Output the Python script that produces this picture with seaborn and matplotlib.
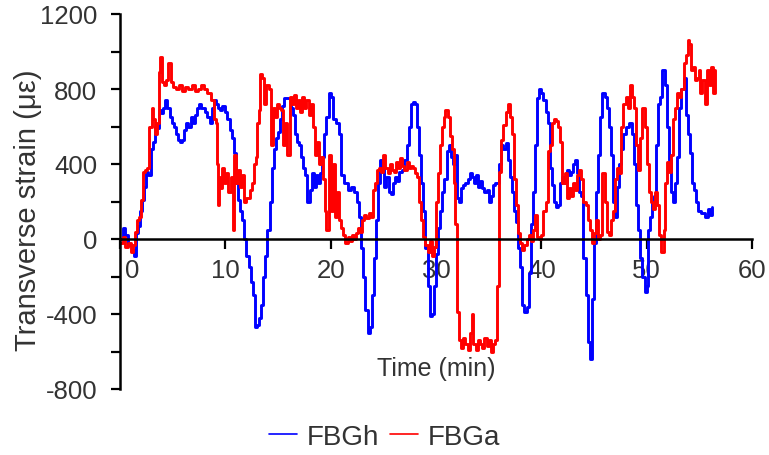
import numpy as np
import pandas as pd
import matplotlib
matplotlib.use("Agg")
import matplotlib.pyplot as plt
import seaborn as sns
from matplotlib.lines import Line2D
from matplotlib.ticker import MultipleLocator
from matplotlib.transforms import ScaledTranslation

# ---------------- data ----------------
fbgh_t = [0.0, 0.3, 0.5, 0.8, 1.1, 1.3, 1.5, 1.7, 1.9, 2.1, 2.3, 2.5, 2.7, 2.9, 3.1, 3.3, 3.5, 3.7, 3.9,
          4.1, 4.3, 4.5, 4.7, 4.9, 5.1, 5.3, 5.5, 5.7, 5.9, 6.1, 6.3, 6.5, 6.7, 6.9, 7.1, 7.3, 7.5, 7.7,
          7.9, 8.1, 8.3, 8.5, 8.7, 8.9, 9.1, 9.3, 9.5,
          9.7, 10.0, 10.2, 10.4, 10.6, 10.8, 11.0, 11.2, 11.4, 11.6, 11.8, 12.0, 12.2, 12.4, 12.6, 12.8,
          13.0, 13.2, 13.4, 13.6, 13.8, 14.0, 14.2, 14.4, 14.6, 14.8, 15.0, 15.2, 15.4, 15.6, 15.8, 16.0,
          16.2, 16.4, 16.6, 16.8, 17.0, 17.2, 17.4, 17.6, 17.8, 18.0, 18.2, 18.4, 18.6, 18.8, 19.0, 19.2,
          19.4, 19.6, 19.8,
          20.0, 20.2, 20.5, 20.8, 21.0, 21.3, 21.6, 21.9, 22.2, 22.5, 22.7, 22.9, 23.1, 23.3, 23.5, 23.7,
          23.9, 24.1, 24.3, 24.5, 24.7, 24.9, 25.1, 25.3, 25.5, 25.7, 25.9, 26.1, 26.3, 26.5, 26.8, 27.0,
          27.2, 27.4, 27.6, 27.8, 28.0, 28.2, 28.4, 28.6, 28.8, 29.0, 29.2, 29.4, 29.6,
          29.8, 30.0, 30.2, 30.4, 30.6, 30.8, 31.0, 31.2, 31.4, 31.6, 31.8, 32.0, 32.2, 32.4, 32.6, 32.8,
          33.0, 33.2, 33.4, 33.6, 33.8, 34.0, 34.2, 34.4, 34.6, 34.8, 35.0, 35.2, 35.4, 35.6, 35.8, 36.0,
          36.2, 36.4, 36.6, 36.8, 37.0, 37.2, 37.4, 37.6, 37.8, 38.0, 38.2, 38.4, 38.6, 38.8, 39.0, 39.2,
          39.4, 39.6, 39.8,
          40.0, 40.2, 40.4, 40.6, 40.8, 41.0, 41.2, 41.4, 41.6, 41.8, 42.0, 42.2, 42.4, 42.6, 42.8, 43.0,
          43.2, 43.4, 43.6, 43.8, 44.0, 44.2, 44.4, 44.6, 44.8, 45.0, 45.2, 45.4, 45.6, 45.8, 46.0, 46.2,
          46.4, 46.6, 46.8, 47.0, 47.2, 47.4, 47.6, 47.8, 48.0, 48.3, 48.6, 48.8, 49.0, 49.2, 49.4, 49.6,
          49.8,
          50.0, 50.1, 50.3, 50.5, 50.7, 50.9, 51.1, 51.3, 51.5, 51.7, 51.9, 52.1, 52.3, 52.5, 52.7, 52.9,
          53.1, 53.3, 53.5, 53.7, 53.9, 54.1, 54.3, 54.5, 54.7, 54.9, 55.2, 55.5, 55.8, 56.0, 56.2]
fbgh_v = [0, 60, 20, -30, -60, -90, 30, 70, 150, 210, 280, 360, 340, 480, 520, 600, 590, 690, 670,
          700, 740, 700, 650, 620, 600, 560, 530, 515, 530, 580, 620, 600, 650, 620, 660, 700, 720, 700,
          700, 680, 650, 620, 700, 740, 720, 700, 690,
          710, 680, 640, 580, 540, 460, 300, 210, 150, 100, 0, -90, -150, -230, -300, -470,
          -460, -420, -350, -200, -90, 50, 200, 380, 480, 540, 570, 640, 710, 750, 750, 750,
          700, 660, 560, 520, 500, 440, 380, 340, 200, 260, 350, 280, 340, 300, 350, 440,
          560, 650, 780,
          760, 640, 620, 560, 340, 300, 260, 280, 250, 200, 120, -50, -200, -380, -500, -470,
          -300, -100, 100, 300, 420, 380, 280, 330, 250, 240, 300, 330, 310, 360, 370, 420,
          500, 600, 720, 730, 720, 600, 450, 300, 150, -50, -250, -410, -400,
          -250, -80, 60, 150, 250, 320, 470, 500, 440, 400, 450, 220, 200, 270, 290, 300,
          320, 350, 330, 300, 340, 280, 310, 270, 250, 260, 200, 230, 290, 300, 300, 400,
          500, 480, 510, 420, 330, 250, 150, 90, -50, -150, -350, -390, -360, -180, 80, 250,
          500, 750, 800,
          780, 740, 680, 620, 380, 290, 200, 170, 180, 300, 330, 300, 370, 340, 360, 400,
          420, 350, 250, 230, -100, -300, -550, -640, -320, -20, 250, 450, 650, 780, 760, 700,
          600, 450, 200, 120, 280, 400, 480, 560, 600, 620, 560, 400, 180, 50, -100, -200,
          -280,
          -250, 50, 120, 200, 230, 500, 720, 760, 900, 820, 600, 420, 250, 200, 300, 440,
          700, 800, 860, 660, 560, 460, 300, 260, 200, 150, 140, 120, 160, 130, 170]

fbga_t = [0.0, 0.3, 0.5, 0.8, 1.0, 1.2, 1.4, 1.6, 1.8, 2.0, 2.2, 2.4, 2.6, 2.8, 3.0, 3.1, 3.3, 3.5,
          3.7, 3.8, 4.0, 4.2, 4.4, 4.6, 4.8, 5.0, 5.3, 5.6, 5.9, 6.2, 6.5, 6.8, 7.1, 7.4, 7.7, 8.0,
          8.3, 8.6, 8.9, 9.1, 9.2, 9.3, 9.4, 9.5, 9.7, 9.9, 10.1, 10.3, 10.5, 10.7, 10.8, 11.0,
          11.2, 11.4, 11.6, 11.8, 12.0, 12.3, 12.5, 12.7, 12.9, 13.0, 13.2, 13.3, 13.5, 13.7, 13.9,
          14.1, 14.3, 14.5, 14.7, 14.9, 15.1, 15.3, 15.5, 15.7, 15.9, 16.1, 16.3, 16.5, 16.7, 16.9,
          17.1, 17.3, 17.5, 17.7, 17.9, 18.1, 18.3, 18.5, 18.7, 18.9, 19.1, 19.3, 19.5, 19.6,
          19.8, 20.0, 20.2, 20.4, 20.6, 20.8, 21.0, 21.2, 21.4, 21.6, 21.8, 22.0, 22.2, 22.4, 22.6,
          22.8, 23.0, 23.2, 23.4, 23.6, 23.8, 24.0, 24.2, 24.4, 24.6, 24.8, 25.0, 25.2, 25.4, 25.6,
          25.8, 26.0, 26.2, 26.4, 26.6, 26.8, 27.0, 27.2, 27.4, 27.6, 27.8, 28.0, 28.2, 28.4, 28.6,
          28.8, 29.0, 29.2, 29.4, 29.6, 29.8,
          30.0, 30.2, 30.4, 30.6, 30.8, 30.9, 31.1, 31.3, 31.5, 31.7, 31.8, 32.0, 32.2, 32.4, 32.6,
          32.8, 33.0, 33.2, 33.4, 33.5, 33.8, 34.0, 34.2, 34.4, 34.6, 34.8, 35.0, 35.2, 35.4, 35.6,
          35.8, 36.0, 36.2, 36.4, 36.6, 36.8, 37.0, 37.2, 37.4, 37.6, 37.8, 38.0, 38.2, 38.4, 38.6,
          38.8, 39.0, 39.2, 39.4, 39.6, 39.8,
          40.0, 40.2, 40.4, 40.6, 40.8, 41.0, 41.2, 41.4, 41.6, 41.8, 42.0, 42.2, 42.4, 42.6, 42.8,
          43.0, 43.2, 43.4, 43.6, 43.8, 44.0, 44.2, 44.4, 44.6, 44.8, 45.0, 45.2, 45.4, 45.6, 45.8,
          46.0, 46.2, 46.4, 46.6, 46.8, 47.0, 47.2, 47.4, 47.6, 47.8, 48.0, 48.2, 48.4, 48.6, 48.8,
          49.0, 49.2, 49.4, 49.6, 49.8,
          50.0, 50.2, 50.4, 50.6, 50.8, 51.0, 51.2, 51.4, 51.6, 51.7, 51.9, 52.1, 52.3, 52.5, 52.7,
          52.9, 53.1, 53.3, 53.5, 53.7, 53.9, 54.0, 54.2, 54.4, 54.6, 54.8, 55.0, 55.1, 55.3, 55.5,
          55.7, 55.9, 56.1, 56.3, 56.5]
fbga_v = [-20, 10, -40, -20, -70, -30, 40, 100, 120, 210, 360, 370, 380, 600, 700, 640, 560, 620,
          890, 970, 840, 820, 850, 940, 840, 810, 800, 820, 790, 810, 800, 820, 790, 800, 820, 800,
          780, 740, 640, 620, 400, 180, 330, 270, 380, 300, 350, 250, 330, 50, 450, 300,
          370, 280, 340, 200, 220, 260, 300, 400, 440, 620, 690, 880, 860, 720, 820,
          800, 500, 700, 650, 720, 700, 690, 500, 620, 450, 760, 720, 770, 700, 740,
          680, 760, 700, 740, 660, 720, 600, 450, 520, 400, 440, 320, 150, 50,
          450, 150, 400, 120, 250, 100, 60, 20, -20, 10, -10, 20, 0, 30, 60,
          40, 100, 130, 110, 140, 120, 260, 300, 370, 380, 360, 450, 380, 350, 400,
          370, 360, 410, 380, 430, 390, 370, 410, 380, 390, 380, 350, 330, 200, 100,
          10, -30, -70, -10, -90, -40,
          200, 350, 500, 600, 650, 690, 650, 550, 480, 300, 80, -390, -540, -580, -530,
          -560, -590, -500, -400, -560, -590, -540, -560, -580, -530, -570, -540, -600, -560, -540,
          -250, 360, 530, 610, 680, 720, 650, 560, 320, 180, 30, -20, -60, -30, 0,
          20, -10, 50, 130, 10, 0,
          20, 150, 200, 470, 500, 620, 640, 630, 600, 520, 300, 350, 220, 270, 230,
          300, 260, 340, 370, 320, 200, 180, 100, 50, -20, 30, 100, 0, 20, 350,
          200, 40, 20, 100, 150, 320, 380, 350, 600, 720, 760, 700, 820, 760, 700,
          500, 370, 540, 700, 600,
          400, 250, 200, 160, 250, 180, 20, -70, 50, 300, 410, 360, 450, 640, 700,
          780, 760, 800, 940, 980, 1060, 1040, 900, 920, 850, 860, 900, 780, 850, 720,
          900, 820, 920, 780, 900]

series_names = ["FBGh", "FBGa"]
series_colors = {"FBGh": "#0000FF", "FBGa": "#FF0000"}
x_ticks = [0, 10, 20, 30, 40, 50, 60]
y_ticks = [-800, -400, 0, 400, 800, 1200]

df = pd.concat([
    pd.DataFrame({"Time": fbgh_t, "Strain": fbgh_v, "Sensor": "FBGh"}),
    pd.DataFrame({"Time": fbga_t, "Strain": fbga_v, "Sensor": "FBGa"}),
], ignore_index=True)

# ---------------- styling ----------------
sns.set_style("white")
plt.rcParams["font.family"] = ["Liberation Sans", "DejaVu Sans"]
plt.rcParams["axes.unicode_minus"] = False
text_color = "#333333"

fig = plt.figure(figsize=(7.69, 4.56), dpi=100)
ax = fig.add_axes([120 / 769, 66 / 456, 632 / 769, 375 / 456])

sns.lineplot(data=df, x="Time", y="Strain", hue="Sensor", hue_order=series_names,
             palette=series_colors, estimator=None, sort=False, drawstyle="steps-post",
             linewidth=2.1, legend=False, ax=ax)

ax.set_xlim(0, 60)
ax.set_ylim(-800, 1200)
ax.set_xticks(x_ticks)
ax.set_yticks(y_ticks)
ax.yaxis.set_minor_locator(MultipleLocator(200))

for s in ["top", "right"]:
    ax.spines[s].set_visible(False)
ax.spines["bottom"].set_position(("data", 0))
ax.spines["left"].set_position(("data", 0))
for s in ["bottom", "left"]:
    ax.spines[s].set_color("black")
    ax.spines[s].set_linewidth(1.8)

ax.tick_params(axis="y", which="both", direction="out", length=6.5, width=1.6,
               color="black", labelsize=18.5, labelcolor=text_color, pad=10, left=True)
ax.tick_params(axis="x", which="major", direction="out", length=7, width=1.6,
               color="black", labelsize=18.5, labelcolor=text_color, pad=7, bottom=True)

ax.set_xlabel("Time (min)", fontsize=18, color=text_color)
ax.xaxis.set_label_coords(0.5, 0.088)
ax.set_ylabel("Transverse strain (\u03bc\u03b5)", fontsize=21, color=text_color)
ax.yaxis.set_label_coords(-0.123, 0.48)

# nudge the "0" label off the vertical axis, as in the reference
lbl0 = ax.get_xticklabels()[0]
lbl0.set_transform(lbl0.get_transform() + ScaledTranslation(0.12, 0, fig.dpi_scale_trans))

handles = [Line2D([], [], color=series_colors[n], lw=1.2) for n in series_names]
fig.legend(handles, series_names, loc="center", bbox_to_anchor=(0.5, 0.04), ncol=2,
           frameon=False, fontsize=20, handlelength=1.0, handletextpad=0.35,
           columnspacing=0.4, labelcolor=text_color)

fig.savefig("out.png", dpi=100)
